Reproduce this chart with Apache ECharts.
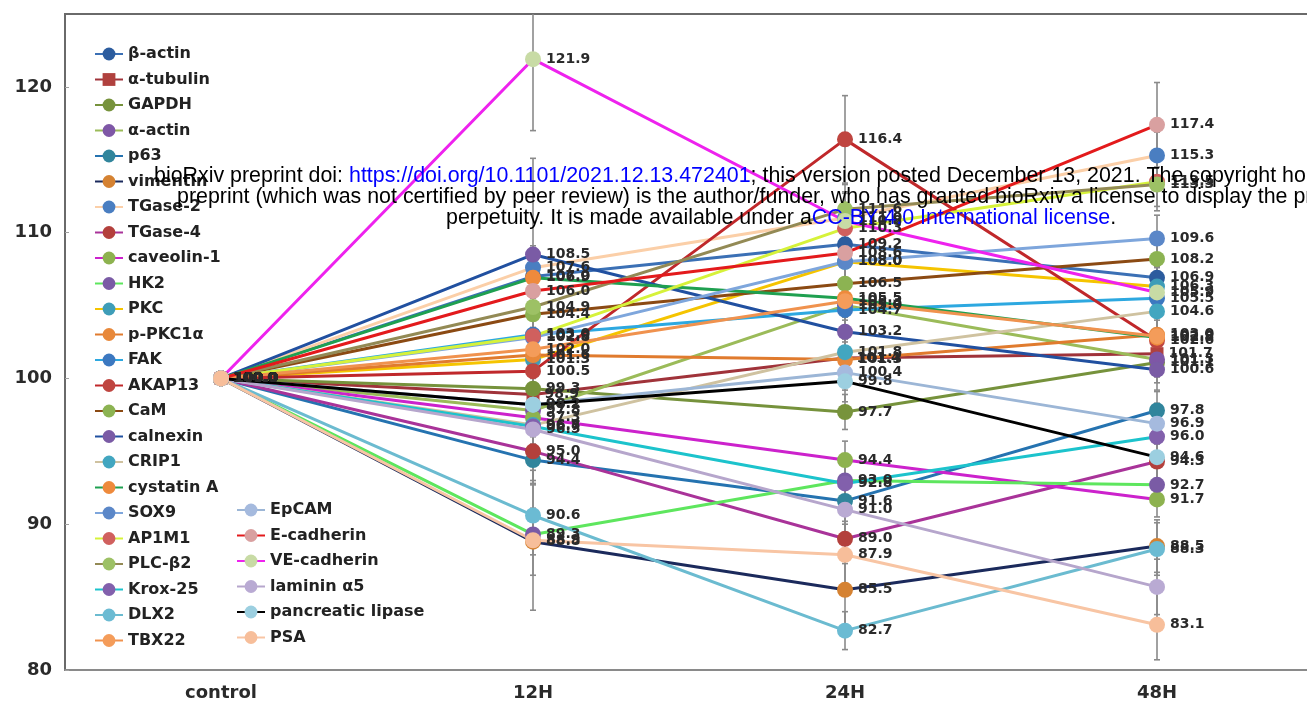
<!DOCTYPE html>
<html>
<head>
<meta charset="utf-8">
<script src="https://cdn.jsdelivr.net/npm/echarts@6/dist/echarts.min.js"></script>
<style>
  html, body { margin: 0; padding: 0; background: #fff; }
  #chart { width: 1307px; height: 703px; }
</style>
</head>
<body>
<div id="chart"></div>
<script>
// Time points
const categories = ['control', '12H', '24H', '48H'];

// Relative expression (%) per marker, control = 100
const bActin      = [100, 107.0, 109.2, 106.9];
const aTubulin    = [100,  98.9, 101.4, 101.7];
const gapdh       = [100,  99.3,  97.7, 101.1];
const aActin      = [100,  97.8, 105.0, 101.3];
const p63         = [100,  94.4,  91.6,  97.8];
const vimentin    = [100,  88.8,  85.5,  88.5];
const tgase2      = [100, 107.6, 111.0, 115.3];
const tgase4      = [100,  95.0,  89.0,  94.3];
const caveolin1   = [100,  97.3,  94.4,  91.7];
const hk2         = [100,  89.3,  93.0,  92.7];
const pkc         = [100, 101.3, 108.0, 106.3];
const pPkc1a      = [100, 101.6, 101.3, 103.0];
const fak         = [100, 103.0, 104.7, 105.5];
const akap13      = [100, 100.5, 116.4, 102.6];
const cam         = [100, 104.4, 106.5, 108.2];
const calnexin    = [100, 108.5, 103.2, 100.6];
const crip1       = [100,  96.8, 101.8, 104.6];
const cystatinA   = [100, 106.9, 105.5, 102.8];
const sox9        = [100, 102.8, 108.0, 109.6];
const ap1m1       = [100, 102.9, 110.3, 113.5];
const plcB2       = [100, 104.9, 111.6, 113.3];
const krox25      = [100,  96.7,  92.8,  96.0];
const dlx2        = [100,  90.6,  82.7,  88.3];
const tbx22       = [100, 102.0, 105.3, 102.9];
const epcam       = [100,  98.2, 100.4,  96.9];
const eCadherin   = [100, 106.0, 108.6, 117.4];
const veCadherin  = [100, 121.9, 110.8, 105.9];
const lamininA5   = [100,  96.5,  91.0,  85.7];
const pancLipase  = [100,  98.2,  99.8,  94.6];
const psa         = [100,  88.9,  87.9,  83.1];

// Standard deviations (control has none)
const bActinErr     = [0, 1.5, 1.6, 1.4];
const aTubulinErr   = [0, 1.2, 1.3, 1.5];
const gapdhErr      = [0, 1.0, 1.2, 1.4];
const aActinErr     = [0, 1.4, 1.5, 1.2];
const p63Err        = [0, 1.6, 1.4, 1.3];
const vimentinErr   = [0, 2.3, 2.4, 1.8];
const tgase2Err     = [0, 1.5, 1.8, 1.6];
const tgase4Err     = [0, 2.0, 1.7, 1.5];
const caveolin1Err  = [0, 1.2, 1.3, 1.2];
const hk2Err        = [0, 1.4, 1.3, 1.2];
const pkcErr        = [0, 1.3, 1.5, 1.4];
const pPkc1aErr     = [0, 1.1, 1.2, 1.3];
const fakErr        = [0, 1.3, 1.4, 1.5];
const akap13Err     = [0, 1.5, 3.0, 1.6];
const camErr        = [0, 1.2, 1.4, 1.6];
const calnexinErr   = [0, 6.6, 1.5, 1.4];
const crip1Err      = [0, 1.3, 1.2, 1.4];
const cystatinAErr  = [0, 1.4, 1.3, 1.5];
const sox9Err       = [0, 1.3, 1.5, 1.6];
const ap1m1Err      = [0, 1.2, 1.6, 1.7];
const plcB2Err      = [0, 1.4, 1.7, 1.8];
const krox25Err     = [0, 1.3, 1.2, 1.3];
const dlx2Err       = [0, 2.1, 1.3, 1.8];
const tbx22Err      = [0, 1.2, 1.3, 1.4];
const epcamErr      = [0, 1.3, 1.2, 1.4];
const eCadherinErr  = [0, 1.6, 1.8, 2.9];
const veCadherinErr = [0, 4.9, 1.9, 1.7];
const lamininA5Err  = [0, 1.4, 1.6, 1.9];
const pancLipaseErr = [0, 1.3, 1.4, 1.5];
const psaErr        = [0, 4.8, 2.1, 2.4];

// name, values, sd, line colour, marker colour, marker shape
const markers = [
  ['β-actin',           bActin,     bActinErr,     '#3B70B5', '#2C5C9E', 'circle'],
  ['α-tubulin',         aTubulin,   aTubulinErr,   '#A0333A', '#B0413E', 'rect'],
  ['GAPDH',             gapdh,      gapdhErr,      '#76923C', '#77933C', 'circle'],
  ['α-actin',           aActin,     aActinErr,     '#9BBB59', '#7E57A6', 'circle'],
  ['p63',               p63,        p63Err,        '#2573B0', '#31859C', 'circle'],
  ['vimentin',          vimentin,   vimentinErr,   '#1B2A5C', '#D58232', 'circle'],
  ['TGase-2',           tgase2,     tgase2Err,     '#FBCFA8', '#4A7EC1', 'circle'],
  ['TGase-4',           tgase4,     tgase4Err,     '#A93399', '#B3403C', 'circle'],
  ['caveolin-1',        caveolin1,  caveolin1Err,  '#CC22CC', '#8DB24F', 'circle'],
  ['HK2',               hk2,        hk2Err,        '#5EE65E', '#7A5BA5', 'circle'],
  ['PKC',               pkc,        pkcErr,        '#F5C400', '#3E9DB8', 'circle'],
  ['p-PKC1α',           pPkc1a,     pPkc1aErr,     '#E07B2E', '#E8883A', 'circle'],
  ['FAK',               fak,        fakErr,        '#2DA8E0', '#3C78C0', 'circle'],
  ['AKAP13',            akap13,     akap13Err,     '#C0282B', '#BF4540', 'circle'],
  ['CaM',               cam,        camErr,        '#8B4A13', '#8CB352', 'circle'],
  ['calnexin',          calnexin,   calnexinErr,   '#2150A0', '#7A5BA5', 'circle'],
  ['CRIP1',             crip1,      crip1Err,      '#CFC2A0', '#42A6C0', 'circle'],
  ['cystatin A',        cystatinA,  cystatinAErr,  '#1FA050', '#EE8A3C', 'circle'],
  ['SOX9',              sox9,       sox9Err,       '#7EA6DC', '#5B87C8', 'circle'],
  ['AP1M1',             ap1m1,      ap1m1Err,      '#D6F23A', '#D0605E', 'circle'],
  ['PLC-β2',            plcB2,      plcB2Err,      '#938A55', '#9DC165', 'circle'],
  ['Krox-25',           krox25,     krox25Err,     '#1CC3CC', '#8260AC', 'circle'],
  ['DLX2',              dlx2,       dlx2Err,       '#6BBBD0', '#6BBBD3', 'circle'],
  ['TBX22',             tbx22,      tbx22Err,      '#F0924E', '#F49C5A', 'circle'],
  ['EpCAM',             epcam,      epcamErr,      '#9CB6D6', '#A5BADE', 'circle'],
  ['E-cadherin',        eCadherin,  eCadherinErr,  '#E31A1C', '#D9A0A0', 'circle'],
  ['VE-cadherin',       veCadherin, veCadherinErr, '#EE22EE', '#C8DBA5', 'circle'],
  ['laminin α5',        lamininA5,  lamininA5Err,  '#B6A6CC', '#B9AAD3', 'circle'],
  ['pancreatic lipase', pancLipase, pancLipaseErr, '#000000', '#9CCFE0', 'circle'],
  ['PSA',               psa,        psaErr,        '#F8C5A4', '#F7BE9A', 'circle']
];

// points whose value label is left off
const unlabeled = { 'laminin α5': [3] };

const FONT = '"DejaVu Sans", sans-serif';
const chart = echarts.init(document.getElementById('chart'), null, { renderer: 'canvas' });

const lineSeries = markers.map(([name, vals, , lineColor, dotColor, shape]) => ({
  name,
  type: 'line',
  symbol: shape,
  symbolSize: shape === 'rect' ? 13 : 16,
  showAllSymbol: true,
  lineStyle: { color: lineColor, width: 3 },
  itemStyle: { color: dotColor },
  data: vals.map((v, i) => (unlabeled[name] && unlabeled[name].includes(i))
    ? { value: v, label: { show: false } } : v),
  label: {
    show: true,
    position: 'right',
    distance: 5,
    fontFamily: FONT,
    fontWeight: 'bold',
    fontSize: 14,
    color: '#2a2a2a',
    formatter: p => Number(p.value).toFixed(1)
  },
  emphasis: { disabled: true },
  animation: false,
  z: 3
}));

// error bars for every point after control
const errData = [];
markers.forEach(([, vals, errs]) => {
  for (let i = 1; i < vals.length; i++) errData.push([i, vals[i], errs[i]]);
});

const errorSeries = {
  type: 'custom',
  silent: true,
  animation: false,
  z: 2,
  data: errData,
  encode: { x: 0, y: 1 },
  renderItem(params, api) {
    const c = api.value(0), v = api.value(1), e = api.value(2);
    const hi = api.coord([c, v + e]);
    const lo = api.coord([c, v - e]);
    const cs = params.coordSys;
    const yTop = Math.max(hi[1], cs.y);
    const st = { stroke: '#8a8a8a', lineWidth: 1.6 };
    const kids = [
      { type: 'line', shape: { x1: hi[0], y1: yTop, x2: lo[0], y2: lo[1] }, style: st },
      { type: 'line', shape: { x1: lo[0] - 3, y1: lo[1], x2: lo[0] + 3, y2: lo[1] }, style: st }
    ];
    if (hi[1] >= cs.y) {
      kids.push({ type: 'line', shape: { x1: hi[0] - 3, y1: hi[1], x2: hi[0] + 3, y2: hi[1] }, style: st });
    }
    return { type: 'group', children: kids };
  }
};

const legendBase = {
  orient: 'vertical',
  itemWidth: 28,
  itemHeight: 16,
  itemGap: 9.5,
  selectedMode: false,
  textStyle: { fontFamily: FONT, fontWeight: 'bold', fontSize: 16, lineHeight: 16, color: '#222' }
};

const blue = { fill: '#0000ff', fontSize: 21.4, fontFamily: '"Liberation Sans", Arial, sans-serif' };
const noteStyle = (text) => ({
  text,
  fill: '#000',
  fontSize: 21.4,
  fontFamily: '"Liberation Sans", Arial, sans-serif',
  verticalAlign: 'middle',
  rich: { l: blue }
});

chart.setOption({
  backgroundColor: '#ffffff',
  animation: false,
  grid: {
    left: 65, top: 14, width: 1248, bottom: 33,
    outerBoundsMode: 'none',
    containLabel: false,
    show: true, borderColor: '#6a6a6a', borderWidth: 2
  },
  xAxis: {
    type: 'category',
    data: categories,
    boundaryGap: true,
    axisLine: { show: true, lineStyle: { color: '#8a8a8a', width: 2 } },
    axisTick: { show: false },
    axisLabel: { margin: 14, fontFamily: FONT, fontWeight: 'bold', fontSize: 18, color: '#2a2a2a' }
  },
  yAxis: {
    type: 'value',
    min: 80, max: 125, interval: 10,
    splitLine: { show: false },
    axisLine: { show: true, lineStyle: { color: '#6a6a6a', width: 2 } },
    axisTick: { show: true, inside: true, length: 4, lineStyle: { color: '#a0a0a0' } },
    axisLabel: { showMaxLabel: false, margin: 13, fontFamily: FONT, fontWeight: 'bold', fontSize: 18, color: '#2a2a2a' }
  },
  legend: [
    Object.assign({}, legendBase, { left: 89, top: 41, data: markers.slice(0, 24).map(m => m[0]) }),
    Object.assign({}, legendBase, { left: 231, top: 497, data: markers.slice(24).map(m => m[0]) })
  ],
  series: [errorSeries].concat(lineSeries),
  graphic: [
    { type: 'text', x: 154, y: 176, z: 100, silent: true,
      style: noteStyle('bioRxiv preprint doi: {l|https://doi.org/10.1101/2021.12.13.472401}; this version posted December 13, 2021. The copyright holder for this') },
    { type: 'text', x: 177, y: 197, z: 100, silent: true,
      style: noteStyle('preprint (which was not certified by peer review) is the author/funder, who has granted bioRxiv a license to display the preprint in') },
    { type: 'text', x: 446, y: 218, z: 100, silent: true,
      style: noteStyle('perpetuity. It is made available under a{l|CC-BY 4.0 International license}.') }
  ]
});
</script>
</body>
</html>
